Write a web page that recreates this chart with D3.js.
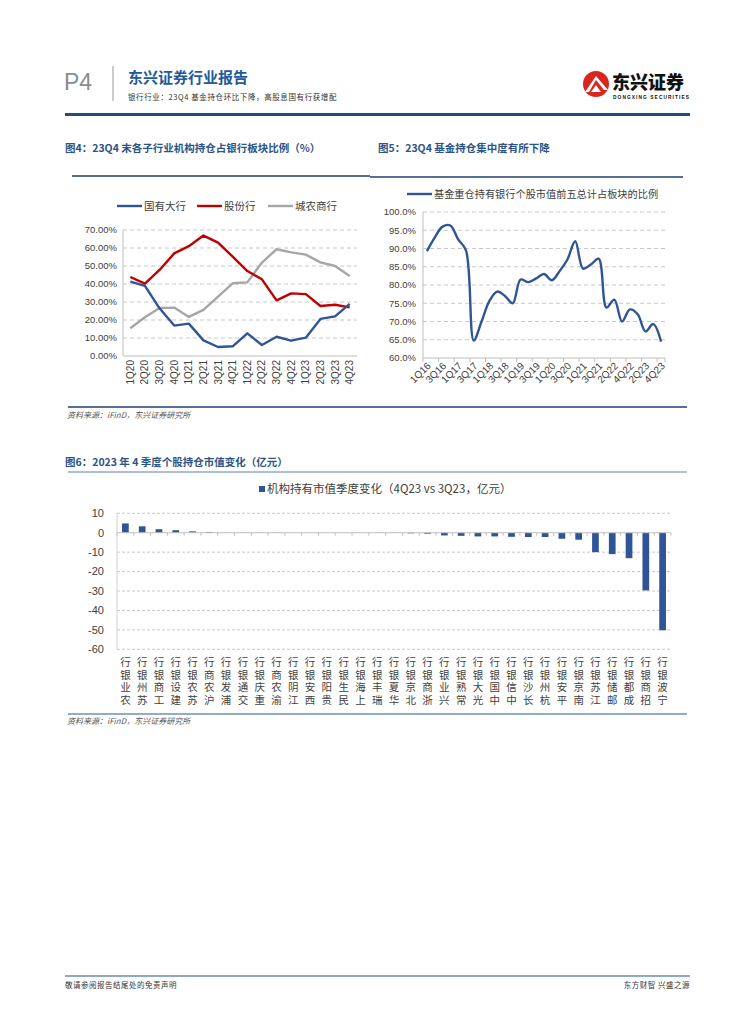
<!DOCTYPE html>
<html><head><meta charset="utf-8">
<script src="https://cdn.jsdelivr.net/npm/d3@7"></script>
<style>
body{margin:0;background:#fff;}
svg{display:block;}
text{font-family:"Liberation Sans","Noto Sans CJK SC",sans-serif;}
.cjk{font-family:"Noto Sans CJK SC","Liberation Sans",sans-serif;}
</style></head>
<body>
<svg id="c" width="755" height="1024"></svg>
<script>
// ---------- data ----------
const c4Cats = ['1Q20','2Q20','3Q20','4Q20','1Q21','2Q21','3Q21','4Q21','1Q22','2Q22','3Q22','4Q22','1Q23','2Q23','3Q23','4Q23'];
const c4Big   = [41.3,39.0,26.5,16.9,18.0,8.7,5.0,5.4,12.6,6.1,10.7,8.5,10.2,20.6,22.0,29.0];
const c4Joint = [43.9,40.2,47.8,57.0,61.0,66.9,63.0,55.2,47.2,42.6,30.9,34.8,34.4,27.8,28.5,27.0];
const c4City  = [15.4,21.5,26.7,26.9,21.7,25.6,33.0,40.4,40.9,51.9,59.3,57.6,56.3,52.0,50.0,44.4];
const c4Names = ['国有大行','股份行','城农商行'];
const c4Ticks = [0,10,20,30,40,50,60,70];

const c5Cats = ['1Q16','2Q16','3Q16','4Q16','1Q17','2Q17','3Q17','4Q17','1Q18','2Q18','3Q18','4Q18','1Q19','2Q19','3Q19','4Q19','1Q20','2Q20','3Q20','4Q20','1Q21','2Q21','3Q21','4Q21','2Q22','3Q22','4Q22','1Q23','2Q23','3Q23','4Q23'];
const c5Vals = [89.3,93.0,96.0,96.3,92.5,89.5,64.8,70.0,75.6,78.2,77.0,75.0,81.5,80.8,81.8,83.0,81.3,83.8,87.0,92.0,84.5,85.6,87.2,73.8,76.0,70.0,73.3,72.0,67.3,69.3,64.5];
const c5Name = '基金重仓持有银行个股市值前五总计占板块的比例';
const c5Ticks = [60,65,70,75,80,85,90,95,100];

const c6Banks = ['农业银行','苏州银行','工商银行','建设银行','苏农银行','沪农商行','浦发银行','交通银行','重庆银行','渝农商行','江阴银行','西安银行','贵阳银行','民生银行','上海银行','瑞丰银行','华夏银行','北京银行','浙商银行','兴业银行','常熟银行','光大银行','中国银行','中信银行','长沙银行','杭州银行','平安银行','南京银行','江苏银行','邮储银行','成都银行','招商银行','宁波银行'];
const c6Vals = [4.8,3.3,1.8,1.3,0.7,0.4,0.1,0.05,0.04,0.03,0.02,0.01,-0.01,-0.02,-0.03,-0.05,-0.08,-0.3,-0.5,-1.4,-1.6,-1.9,-1.9,-2.1,-2.2,-2.2,-3.1,-3.6,-10.0,-11.0,-13.1,-29.7,-50.2];
const c6Name = '机构持有市值季度变化（4Q23 vs 3Q23，亿元）';
const c6Ticks = [10,0,-10,-20,-30,-40,-50,-60];

// ---------- page ----------
const svg = d3.select('#c');
const navy = '#1F4E79', titleC = '#2D5486', blue = '#2F5597', red = '#C00000', gray = '#A6A6A6';
const gridC = '#C8C8C8', axisC = '#BFBFBF', lab = '#404040';

// header
svg.append('text').attr('x',64).attr('y',90).attr('font-size',23).attr('fill','#8c8c8c').text('P4');
svg.append('line').attr('x1',113).attr('x2',113).attr('y1',66).attr('y2',101).attr('stroke','#999').attr('stroke-width',1);
svg.append('text').attr('class','cjk').attr('x',128).attr('y',83).attr('font-size',15).attr('font-weight','bold').attr('fill','#1F5A9A').text('东兴证券行业报告');
svg.append('text').attr('class','cjk').attr('x',128).attr('y',100).attr('font-size',7.5).attr('letter-spacing',0.6).attr('fill','#333').text('银行行业：23Q4 基金持仓环比下降，高股息国有行获增配');
// logo
const lg = svg.append('g');
lg.append('circle').attr('cx',596).attr('cy',84).attr('r',13).attr('fill','#D9251D');
lg.append('path').attr('d','M585,92 L596,76 L608,90 L604,90 L596,80 L589,92 Z').attr('fill','#fff');
lg.append('path').attr('d','M591,92 L596,85 L601,92 Z').attr('fill','#fff');
lg.append('text').attr('class','cjk').attr('x',612).attr('y',89).attr('font-size',18).attr('font-weight','900').attr('fill','#111').text('东兴证券');
lg.append('text').attr('x',613).attr('y',98.5).attr('font-size',4.8).attr('font-weight','bold').attr('fill','#111').attr('textLength',76).text('DONGXING SECURITIES');
svg.append('rect').attr('x',65).attr('y',113).attr('width',625).attr('height',3).attr('fill',navy);

// titles
svg.append('text').attr('class','cjk').attr('x',65).attr('y',152).attr('font-size',10.5).attr('font-weight','bold').attr('fill',titleC).text('图4：23Q4 末各子行业机构持仓占银行板块比例（%）');
svg.append('text').attr('class','cjk').attr('x',378).attr('y',152).attr('font-size',10.5).attr('font-weight','bold').attr('fill',titleC).text('图5：23Q4 基金持仓集中度有所下降');
svg.append('line').attr('x1',72).attr('x2',370).attr('y1',176).attr('y2',176).attr('stroke','#1F3F6F').attr('stroke-width',1.5);
svg.append('line').attr('x1',370).attr('x2',683).attr('y1',177).attr('y2',177).attr('stroke','#1F3F6F').attr('stroke-width',1.5);
svg.append('line').attr('x1',68).attr('x2',687).attr('y1',407).attr('y2',407).attr('stroke','#1F3F6F').attr('stroke-width',1.5);
svg.append('text').attr('class','cjk').attr('x',67).attr('y',418).attr('font-size',8).attr('font-style','italic').attr('fill','#555').text('资料来源：iFinD，东兴证券研究所');

// ---------- chart 4 ----------
{
  const x = d3.scaleBand().domain(c4Cats).range([123,357]);
  const y = d3.scaleLinear().domain([0,70]).range([356,230]);
  const g = svg.append('g');
  c4Ticks.forEach(t=>{
    if(t>0) g.append('line').attr('x1',123).attr('x2',357).attr('y1',y(t)).attr('y2',y(t)).attr('stroke',gridC).attr('stroke-dasharray','4,3');
    g.append('text').attr('x',117).attr('y',y(t)).attr('dy','0.35em').attr('text-anchor','end').attr('font-size',9.5).attr('fill',lab).text(t.toFixed(2)+'%');
  });
  g.append('line').attr('x1',123).attr('x2',123).attr('y1',230).attr('y2',356).attr('stroke',axisC);
  g.append('line').attr('x1',123).attr('x2',357).attr('y1',356).attr('y2',356).attr('stroke',axisC);
  c4Cats.forEach((c,i)=>{
    const cx = x(c)+x.bandwidth()/2;
    g.append('text').attr('transform',`translate(${cx},360) rotate(-90)`).attr('text-anchor','end').attr('dy','0.35em').attr('font-size',10).attr('fill',lab).text(c);
  });
  const line = d3.line().x((d,i)=>x(c4Cats[i])+x.bandwidth()/2).y(d=>y(d));
  [[c4City,gray],[c4Joint,red],[c4Big,blue]].forEach(([s,col])=>{
    g.append('path').attr('d',line(s)).attr('fill','none').attr('stroke',col).attr('stroke-width',2.4).attr('stroke-linejoin','round');
  });
  // legend
  const lx = [117,197,268], cols=[blue,red,gray];
  c4Names.forEach((n,i)=>{
    g.append('line').attr('x1',lx[i]).attr('x2',lx[i]+25).attr('y1',206).attr('y2',206).attr('stroke',cols[i]).attr('stroke-width',2.4);
    g.append('text').attr('class','cjk').attr('x',lx[i]+27).attr('y',206).attr('dy','0.35em').attr('font-size',10.5).attr('fill',lab).text(n);
  });
}

// ---------- chart 5 ----------
{
  const x = d3.scaleBand().domain(c5Cats).range([423,665]);
  const y = d3.scaleLinear().domain([60,100]).range([358,212]);
  const g = svg.append('g');
  c5Ticks.forEach(t=>{
    if(t>60) g.append('line').attr('x1',423).attr('x2',665).attr('y1',y(t)).attr('y2',y(t)).attr('stroke',gridC).attr('stroke-dasharray','4,3');
    g.append('text').attr('x',416).attr('y',y(t)).attr('dy','0.35em').attr('text-anchor','end').attr('font-size',9.5).attr('fill',lab).text(t.toFixed(1)+'%');
  });
  g.append('line').attr('x1',423).attr('x2',423).attr('y1',212).attr('y2',358).attr('stroke',axisC);
  g.append('line').attr('x1',423).attr('x2',665).attr('y1',358).attr('y2',358).attr('stroke',axisC);
  c5Cats.forEach((c,i)=>{
    if(i%2===0){
      g.append('line').attr('x1',x(c)).attr('x2',x(c)).attr('y1',358).attr('y2',362).attr('stroke',axisC);
      const cx = x(c)+x.bandwidth()/2;
      g.append('text').attr('transform',`translate(${cx+2},364) rotate(-45)`).attr('text-anchor','end').attr('dy','0.35em').attr('font-size',10).attr('fill',lab).text(c);
    }
  });
  g.append('line').attr('x1',665).attr('x2',665).attr('y1',358).attr('y2',362).attr('stroke',axisC);
  const line = d3.line().x((d,i)=>x(c5Cats[i])+x.bandwidth()/2).y(d=>y(d)).curve(d3.curveCatmullRom.alpha(0.5));
  g.append('path').attr('d',line(c5Vals)).attr('fill','none').attr('stroke',blue).attr('stroke-width',2.4);
  g.append('line').attr('x1',407).attr('x2',432).attr('y1',194).attr('y2',194).attr('stroke',blue).attr('stroke-width',2.4);
  g.append('text').attr('class','cjk').attr('x',434).attr('y',194).attr('dy','0.35em').attr('font-size',10.2).attr('fill',lab).text(c5Name);
}

// ---------- chart 6 ----------
svg.append('text').attr('class','cjk').attr('x',65).attr('y',466).attr('font-size',10.5).attr('font-weight','bold').attr('fill',titleC).text('图6：2023 年 4 季度个股持仓市值变化（亿元）');
svg.append('line').attr('x1',68).attr('x2',687).attr('y1',472).attr('y2',472).attr('stroke','#8FAACB').attr('stroke-width',1.5);
svg.append('line').attr('x1',68).attr('x2',687).attr('y1',714).attr('y2',714).attr('stroke','#6F91B8').attr('stroke-width',1.5);
svg.append('text').attr('class','cjk').attr('x',67).attr('y',724).attr('font-size',8).attr('font-style','italic').attr('fill','#555').text('资料来源：iFinD，东兴证券研究所');
{
  const x = d3.scaleBand().domain(c6Banks).range([117,671]);
  const y = d3.scaleLinear().domain([-60,10]).range([649.3,513.3]);
  const g = svg.append('g');
  c6Ticks.forEach(t=>{
    if(t!==0) g.append('line').attr('x1',117).attr('x2',671).attr('y1',y(t)).attr('y2',y(t)).attr('stroke',gridC).attr('stroke-dasharray','3,2');
    g.append('text').attr('x',104).attr('y',y(t)).attr('dy','0.35em').attr('text-anchor','end').attr('font-size',11).attr('fill',lab).text(t);
  });
  g.append('line').attr('x1',117).attr('x2',117).attr('y1',y(10)).attr('y2',y(-60)).attr('stroke','#D0D0D0');
  const bw = x.bandwidth()*0.4;
  c6Banks.forEach((b,i)=>{
    const v = c6Vals[i];
    g.append('rect').attr('x',x(b)+x.bandwidth()/2-bw/2).attr('width',bw)
      .attr('y',y(Math.max(0,v))).attr('height',Math.abs(y(v)-y(0))).attr('fill',blue);
  });
  g.append('line').attr('x1',117).attr('x2',671).attr('y1',y(0)).attr('y2',y(0)).attr('stroke',axisC);
  c6Banks.forEach(b=>{
    g.append('line').attr('x1',x(b)).attr('x2',x(b)).attr('y1',y(0)).attr('y2',y(0)+3).attr('stroke',axisC);
  });
  g.append('line').attr('x1',671).attr('x2',671).attr('y1',y(0)).attr('y2',y(0)+3).attr('stroke',axisC);
  c6Banks.forEach(b=>{
    const cx = x(b)+x.bandwidth()/2;
    const t = g.append('text').attr('text-anchor','middle').attr('font-size',10.5).attr('fill',lab);
    Array.from(b).forEach((ch,k)=>{
      t.append('tspan').attr('x',cx).attr('y',704-k*12.6).text(ch);
    });
  });
  g.append('rect').attr('x',259).attr('y',486).attr('width',6).attr('height',6).attr('fill',blue);
  g.append('text').attr('class','cjk').attr('x',267).attr('y',489).attr('dy','0.35em').attr('font-size',11.5).attr('fill',lab).text(c6Name);
}

// footer
svg.append('line').attr('x1',65).attr('x2',690).attr('y1',976).attr('y2',976).attr('stroke','#8DA9C4').attr('stroke-width',2);
svg.append('text').attr('class','cjk').attr('x',65).attr('y',988).attr('font-size',7.5).attr('letter-spacing',0.5).attr('fill','#333').text('敬请参阅报告结尾处的免责声明');
svg.append('text').attr('class','cjk').attr('x',690).attr('y',988).attr('text-anchor','end').attr('font-size',7.5).attr('letter-spacing',0.5).attr('fill','#333').text('东方财智 兴盛之源');
</script>
</body></html>
